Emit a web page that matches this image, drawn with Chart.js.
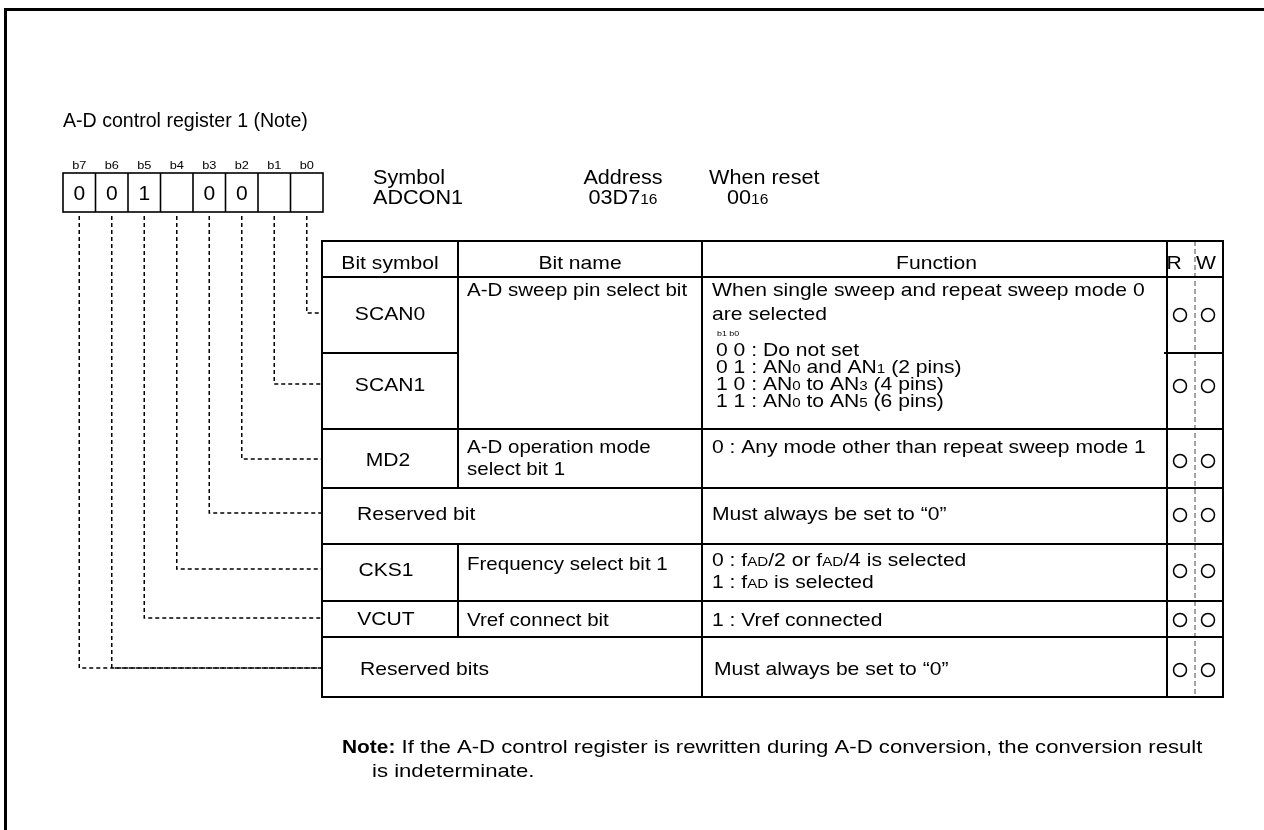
<!DOCTYPE html>
<html>
<head>
<meta charset="utf-8">
<script src="https://cdn.jsdelivr.net/npm/chart.js@4"></script>
<style>
  html, body { margin: 0; padding: 0; background: #fff; }
  #c { display: block; }
</style>
</head>
<body>
<canvas id="c" width="1264" height="830"></canvas>
<script>
// register contents
const title = 'A-D control register 1 (Note)';
const bitLabels = ['b7', 'b6', 'b5', 'b4', 'b3', 'b2', 'b1', 'b0'];
const bitValues = ['0', '0', '1', '', '0', '0', '', ''];
const bitRows = [6, 6, 5, 4, 3, 2, 1, 0];   // table row each bit points to
const headInfo = [['Symbol', 'ADCON1'], ['Address', '03D7{16}'], ['When reset', '00{16}']];
const headers = ['Bit symbol', 'Bit name', 'Function', 'R', 'W'];
const bitSymbols = ['SCAN0', 'SCAN1', 'MD2', 'Reserved bit', 'CKS1', 'VCUT', 'Reserved bits'];
const bitNames = [
    ['A-D sweep pin select bit'], [],
    ['A-D operation mode', 'select bit 1'], [],
    ['Frequency select bit 1'], ['Vref connect bit'], []
];
const functions = [
    ['When single sweep and repeat sweep mode 0', 'are selected', '[b1 b0]',
     '0 0 : Do not set', '0 1 : AN{0} and AN{1} (2 pins)',
     '1 0 : AN{0} to AN{3} (4 pins)', '1 1 : AN{0} to AN{5} (6 pins)'],
    [],
    ['0 : Any mode other than repeat sweep mode 1'],
    ['Must always be set to \u201c0\u201d'],
    ['0 : f{AD}/2 or f{AD}/4 is selected', '1 : f{AD} is selected'],
    ['1 : Vref connected'],
    ['Must always be set to \u201c0\u201d']
];
const readable = [1, 1, 1, 1, 1, 1, 1];
const writable = [1, 1, 1, 1, 1, 1, 1];
const noteLines = ['If the A-D control register is rewritten during A-D conversion, the conversion result', 'is indeterminate.'];

// layout (page units = pixels of the 1264x830 sheet)
const FONT = '"Liberation Sans", Arial, Helvetica, sans-serif';
const SX = 1.11;   // the original lettering is a bit wider than Arial
const box = { x: 63, w: 32.5, top: 173, bottom: 212 };
const colX = [322, 458, 702, 1167, 1223];
const rwMid = 1195;
const rowY = [241, 277, 353, 429, 488, 544, 601, 637, 697];
const rowMid = [313, 384, 459, 513, 569, 618, 668];
const symX = [390, 390, 388, 357, 386, 386, 360];
const symAlign = ['center', 'center', 'center', 'left', 'center', 'center', 'left'];
const nameY = [[289], [], [446, 468], [], [563], [619], []];
const fnY = [[289, 313, 333, 349, 366, 383, 400], [], [446], [513], [559, 581], [619], [668]];
const fnX = [[712, 712, 717, 716, 716, 716, 716], [], [712], [712], [712, 712], [712], [714]];
const rwX = [1180, 1208];

function drawRich(ctx, str, x, yc, size, align, opt) {
    // "{..}" = small subscript-like text, "[..]" = tiny label
    opt = opt || {};
    const sx = opt.sx === undefined ? SX : opt.sx;
    let tiny = false;
    if (str.startsWith('[')) { tiny = true; str = str.slice(1, -1); }
    const segs = [];
    str.split(/(\{[^}]*\})/).forEach(s => {
        if (!s) return;
        if (s[0] === '{') segs.push({ t: s.slice(1, -1), s: size * 0.72 });
        else segs.push({ t: s, s: tiny ? 8 : size });
    });
    const f = s => (opt.bold ? 'bold ' : '') + s + 'px ' + FONT;
    let w = 0;
    segs.forEach(g => { ctx.font = f(g.s); g.w = ctx.measureText(g.t).width * sx; w += g.w; });
    let cx = align === 'center' ? x - w / 2 : (align === 'right' ? x - w : x);
    const base = yc + (tiny ? 8 : size) * 0.36;
    ctx.textAlign = 'left';
    ctx.textBaseline = 'alphabetic';
    segs.forEach(g => {
        ctx.font = f(g.s);
        ctx.save();
        ctx.translate(cx, base);
        ctx.scale(sx, 1);
        ctx.fillText(g.t, 0, 0);
        ctx.restore();
        cx += g.w;
    });
    return w;
}

const registerPlugin = {
    id: 'register',
    beforeDatasetsDraw(chart) {
        const ctx = chart.ctx;
        const X = v => chart.scales.x.getPixelForValue(v);
        const Y = v => chart.scales.y.getPixelForValue(v);
        const line = (x1, y1, x2, y2) => { ctx.beginPath(); ctx.moveTo(X(x1), Y(y1)); ctx.lineTo(X(x2), Y(y2)); ctx.stroke(); };
        ctx.save();
        ctx.fillStyle = '#000';
        ctx.strokeStyle = '#000';

        // page frame
        ctx.lineWidth = 3;
        line(4, 9.5, 1264, 9.5);
        line(5.5, 8, 5.5, 830);

        drawRich(ctx, title, X(63), Y(120), 19.8, 'left', { sx: 0.99 });

        // bit boxes
        ctx.lineWidth = 1.6;
        ctx.strokeRect(X(box.x), Y(box.top), X(box.x + box.w * 8) - X(box.x), Y(box.bottom) - Y(box.top));
        for (let i = 1; i < 8; i++) line(box.x + box.w * i, box.top, box.x + box.w * i, box.bottom);
        bitLabels.forEach((b, i) => {
            const cx = box.x + box.w * (i + 0.5);
            drawRich(ctx, b, X(cx), Y(165), 11.5, 'center');
            if (bitValues[i]) drawRich(ctx, bitValues[i], X(cx), Y(192.5), 20, 'center', { sx: 1.05 });
        });

        // symbol / address / reset
        const infoX = [[373, 'left'], [623, 'center'], [709, 'left']];
        headInfo.forEach((h, i) => {
            drawRich(ctx, h[0], X(infoX[i][0]), Y(177), 20, infoX[i][1], { sx: 1.08 });
            const x2 = i === 2 ? 727 : infoX[i][0];
            drawRich(ctx, h[1], X(x2), Y(197), 20, i === 1 ? 'center' : 'left', { sx: 1.08 });
        });

        // dashed connectors from bits to rows
        ctx.lineWidth = 1.5;
        ctx.setLineDash([4, 3]);
        bitRows.forEach((r, i) => {
            const cx = box.x + box.w * (i + 0.5);
            ctx.beginPath();
            ctx.moveTo(X(cx), Y(box.bottom + 4));
            ctx.lineTo(X(cx), Y(rowMid[r]));
            ctx.lineTo(X(colX[0]), Y(rowMid[r]));
            ctx.stroke();
        });
        // R/W divider
        ctx.strokeStyle = '#666';
        ctx.lineWidth = 1.2;
        ctx.setLineDash([5, 3]);
        line(rwMid, rowY[0], rwMid, rowY[rowY.length - 1]);
        ctx.setLineDash([]);
        ctx.strokeStyle = '#000';

        // table grid
        ctx.lineWidth = 2;
        const yEnd = rowY[rowY.length - 1];
        ctx.strokeRect(X(colX[0]), Y(rowY[0]), X(colX[4]) - X(colX[0]), Y(yEnd) - Y(rowY[0]));
        line(colX[0], rowY[1], colX[4], rowY[1]);
        [3, 4, 5, 6, 7].forEach(k => line(colX[0], rowY[k], colX[4], rowY[k]));
        line(colX[0], rowY[2], colX[1], rowY[2]);
        line(colX[3] - 3, rowY[2], colX[4], rowY[2]);
        [2, 3].forEach(c => line(colX[c], rowY[0], colX[c], yEnd));
        // bit name column split is absent on the reserved rows
        line(colX[1], rowY[0], colX[1], rowY[4]);
        line(colX[1], rowY[5], colX[1], rowY[7]);

        // headers
        const hx = [(colX[0] + colX[1]) / 2, (colX[1] + colX[2]) / 2, (colX[2] + colX[3]) / 2 + 2, 1174, 1206];
        headers.forEach((h, i) => drawRich(ctx, h, X(hx[i]), Y(262), 19, 'center'));

        // rows
        bitSymbols.forEach((s, r) => {
            drawRich(ctx, s, X(symX[r]), Y(rowMid[r]), 19, symAlign[r]);
            bitNames[r].forEach((t, k) => drawRich(ctx, t, X(467), Y(nameY[r][k]), 19, 'left', { sx: 1.08 }));
            functions[r].forEach((t, k) => drawRich(ctx, t, X(fnX[r][k]), Y(fnY[r][k]), 19, 'left'));
        });

        // note
        const nw = drawRich(ctx, 'Note:', X(342), Y(746), 19, 'left', { bold: true, sx: 1.1 });
        drawRich(ctx, ' ' + noteLines[0], X(342) + nw, Y(746), 19, 'left', { sx: 1.165 });
        drawRich(ctx, noteLines[1], X(372), Y(770), 19, 'left', { sx: 1.165 });
        ctx.restore();
    }
};

const rwPoints = [];
bitSymbols.forEach((s, r) => {
    if (readable[r]) rwPoints.push({ x: rwX[0], y: rowMid[r] + 2 });
    if (writable[r]) rwPoints.push({ x: rwX[1], y: rowMid[r] + 2 });
});

new Chart(document.getElementById('c'), {
    type: 'scatter',
    data: {
        datasets: [{
            label: 'R/W',
            data: rwPoints,
            pointStyle: 'circle',
            pointRadius: 6.5,
            pointBorderWidth: 1.5,
            pointBorderColor: '#000',
            pointBackgroundColor: '#fff'
        }]
    },
    options: {
        responsive: false,
        animation: false,
        layout: { padding: 0, autoPadding: false },
        plugins: { legend: { display: false }, tooltip: { enabled: false } },
        scales: {
            x: { type: 'linear', min: 0, max: 1264, display: false },
            y: { type: 'linear', min: 0, max: 830, reverse: true, display: false }
        }
    },
    plugins: [registerPlugin]
});
</script>
</body>
</html>
